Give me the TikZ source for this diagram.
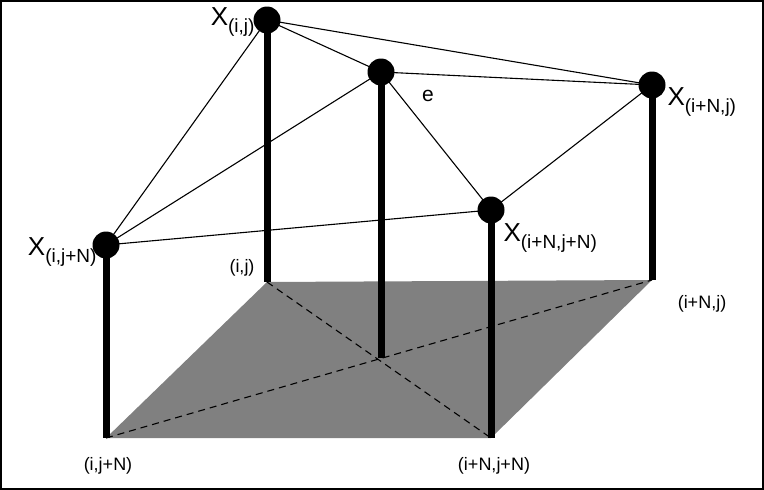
\documentclass[tikz,border=0pt]{standalone}
\usepackage{fontspec}
\setmainfont{Liberation Sans}
\usetikzlibrary{positioning}
\newcommand{\xsub}[1]{{\fontsize{26}{28}\selectfont X\raisebox{-0.45ex}{\fontsize{19}{21}\selectfont #1}}}
\begin{document}
\begin{tikzpicture}[x=1pt,y=-1pt,
    pole/.style={line width=7pt},
    edge/.style={line width=1.1pt},
    dot/.style={circle,fill=black,inner sep=0pt,minimum size=27pt},
    lbl/.style={font=\fontsize{18}{20}\selectfont}]
  % frame
  \draw[line width=2pt] (1,1) rectangle (763,489);
  \useasboundingbox (0,0) rectangle (764,490);

  % Base corners
  \coordinate (Bij) at (267,282);
  \coordinate (BiNj) at (652,280);
  \coordinate (BiNjN) at (491,438);
  \coordinate (BijN) at (106,438);
  \coordinate (Bc) at (381,358);

  % Base plane
  \fill[gray] (Bij) -- (BiNj) -- (BiNjN) -- (BijN) -- cycle;
  \draw[dash pattern=on 7pt off 5pt,edge] (Bij) -- (BiNjN);
  \draw[dash pattern=on 7pt off 5pt,edge] (BijN) -- (BiNj);

  % Top points
  \node[dot] (Xij) at (267,20) {};
  \node[dot] (Xc) at (381,72) {};
  \node[dot] (XiNj) at (652,85) {};
  \node[dot] (XiNjN) at (491,210) {};
  \node[dot] (XijN) at (106,245) {};

  % Poles
  \draw[pole] (Xij.center) -- (Bij);
  \draw[pole] (Xc.center) -- (Bc);
  \draw[pole] (XiNj.center) -- (BiNj);
  \draw[pole] (XiNjN.center) -- (BiNjN);
  \draw[pole] (XijN.center) -- (BijN);

  % Surface edges
  \draw[edge] (Xij.center) -- (XiNj.center);
  \draw[edge] (Xij.center) -- (Xc.center);
  \draw[edge] (Xij.center) -- (XijN.center);
  \draw[edge] (Xc.center) -- (XiNj.center);
  \draw[edge] (Xc.center) -- (XiNjN.center);
  \draw[edge] (Xc.center) -- (XijN.center);
  \draw[edge] (XiNjN.center) -- (XiNj.center);
  \draw[edge] (XijN.center) -- (XiNjN.center);

  % Labels
  \node[lbl] (e) at (428,96) {\fontsize{21}{23}\selectfont e};
  \node[lbl,anchor=east] (LXij) at (258,22) {\xsub{(i,j)}};
  \node[lbl,anchor=west] (LXiNj) at (664,102) {\xsub{(i+N,j)}};
  \node[lbl,anchor=west] (LXiNjN) at (500,238) {\xsub{(i+N,j+N)}};
  \node[lbl,anchor=east] (LXijN) at (100,252) {\xsub{(i,j+N)}};
  \node[lbl] (Lij) at (242,268) {(i,j)};
  \node[lbl] (LiNj) at (702,304) {(i+N,j)};
  \node[lbl] (LiNjN) at (494,466) {(i+N,j+N)};
  \node[lbl] (LijN) at (108,466) {(i,j+N)};
\end{tikzpicture}
\end{document}
